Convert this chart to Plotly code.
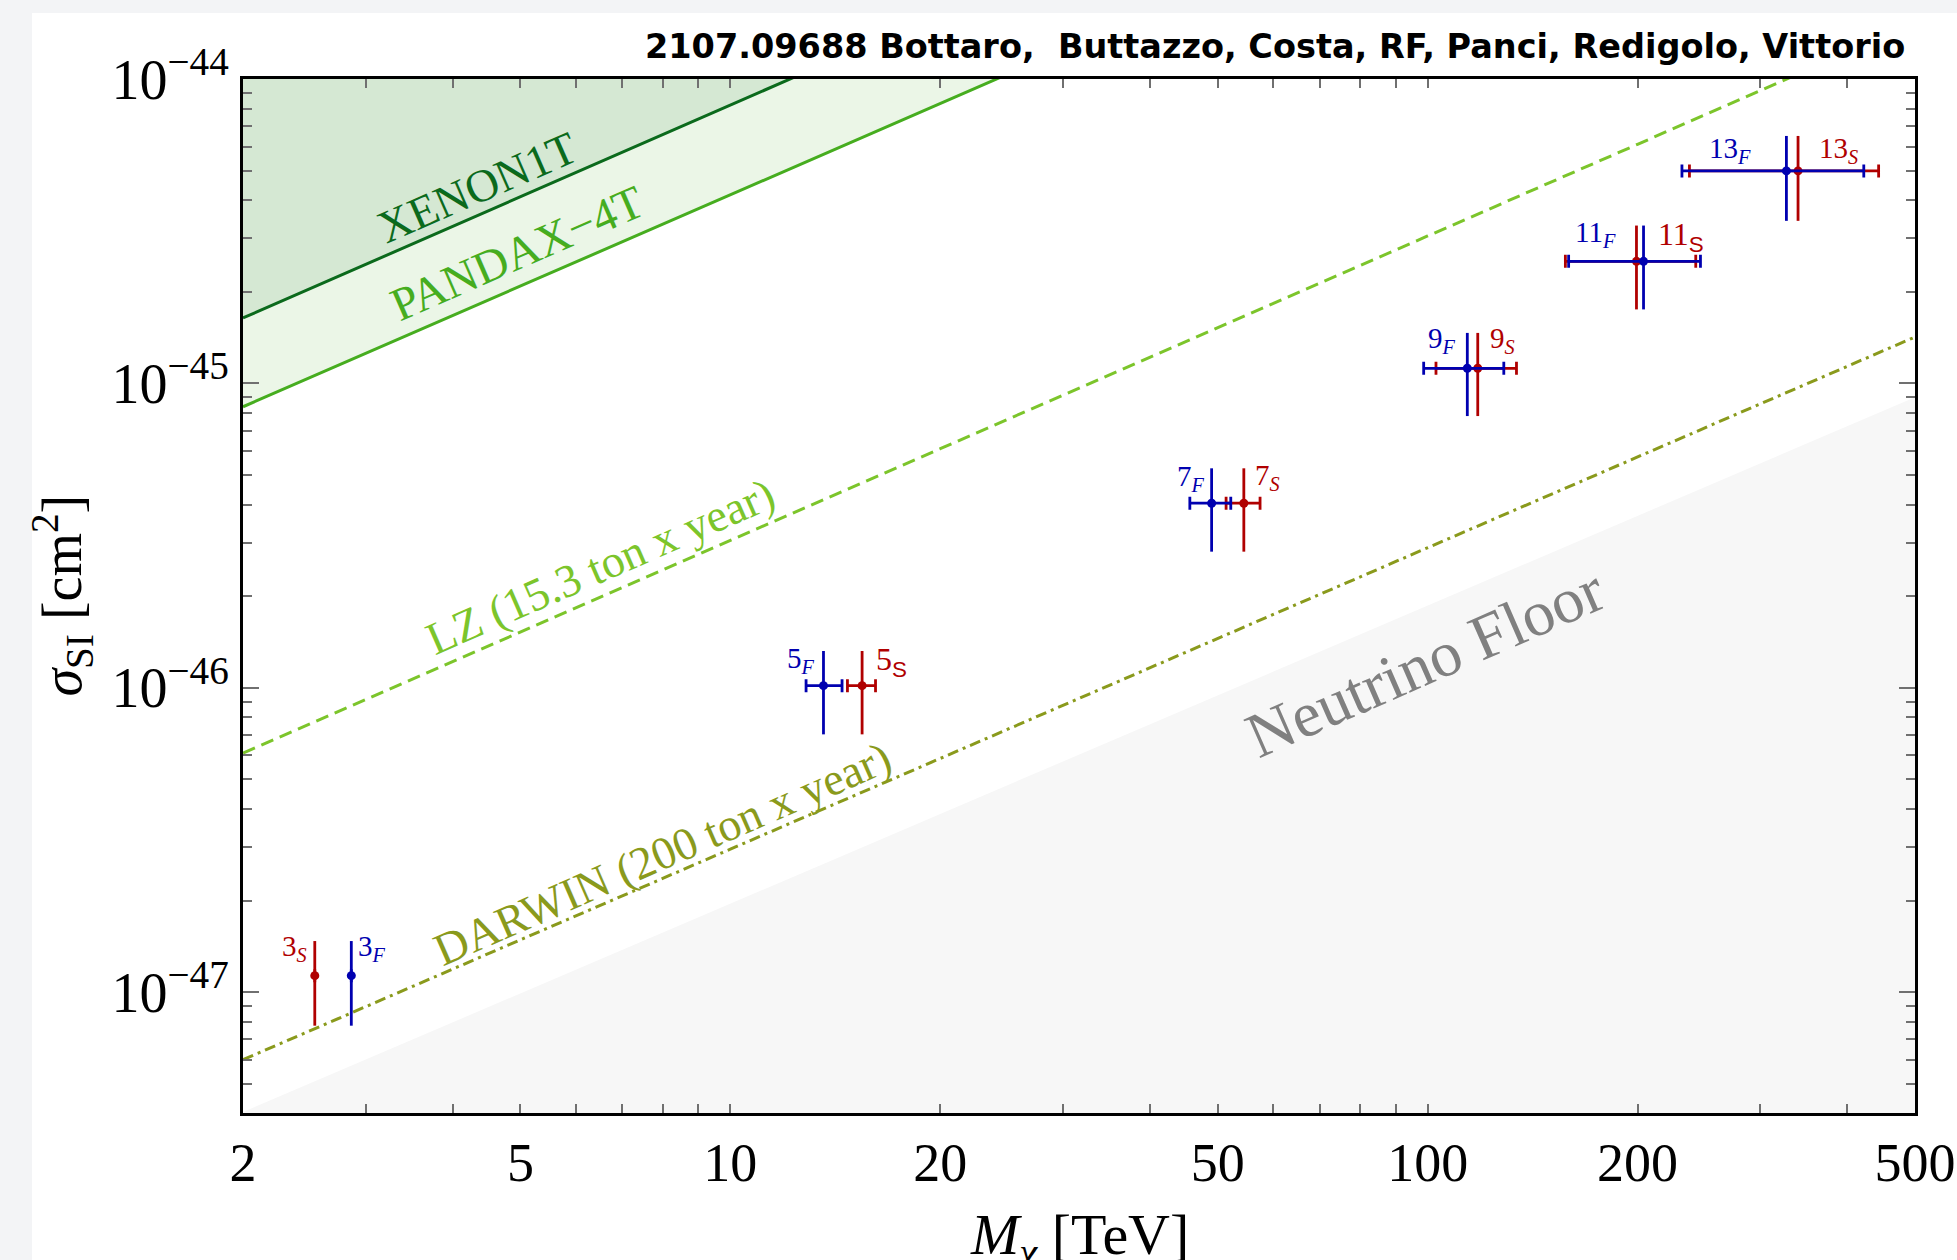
import numpy as np
import plotly.graph_objects as go

# ---------------------------------------------------------------------------
# Data
# ---------------------------------------------------------------------------
# Dark-matter mass grid (TeV) on which the direct-detection curves are given
mass_grid = [2, 5, 10, 20, 50, 100, 200, 500]

# Spin-independent cross sections (cm^2) along the mass grid
xenon1t = [1.64e-45, 4.11e-45, 8.22e-45, 1.64e-44, 4.11e-44, 8.22e-44, 1.64e-43, 4.11e-43]
pandax4t = [8.38e-46, 2.09e-45, 4.17e-45, 8.32e-45, 2.07e-44, 4.13e-44, 8.24e-44, 2.05e-43]
lz_projection = [6.1e-47, 1.53e-46, 3.05e-46, 6.1e-46, 1.53e-45, 3.05e-45, 6.1e-45, 1.53e-44]
darwin_projection = [6.0e-48, 1.49e-47, 2.95e-47, 5.86e-47, 1.45e-46, 2.88e-46, 5.73e-46, 1.42e-45]
neutrino_floor = [4.04e-48, 9.91e-48, 1.96e-47, 3.86e-47, 9.46e-47, 1.86e-46, 3.68e-46, 9.0e-46]

# Electroweak multiplets: n-plet dimension
multiplet = [3, 5, 7, 9, 11, 13]

# Fermionic (F) multiplets: thermal mass with band, and predicted cross section
fermion_mass = [2.86, 13.6, 49.0, 114.0, 204.0, 327.0]
fermion_mass_lo = [2.86, 12.84, 45.6, 98.7, 159.3, 231.6]
fermion_mass_hi = [2.86, 14.46, 52.2, 128.6, 246.2, 422.2]

# Scalar (S) multiplets
scalar_mass = [2.535, 15.45, 54.5, 118.0, 199.3, 339.8]
scalar_mass_lo = [2.535, 14.72, 51.4, 102.8, 157.6, 237.4]
scalar_mass_hi = [2.535, 16.15, 57.5, 134.1, 242.4, 443.4]

# Cross section with its uncertainty (shared by F and S of the same n)
sigma_si = [1.133e-47, 1.016e-46, 4.04e-46, 1.121e-45, 2.518e-45, 4.99e-45]
sigma_si_lo = [7.76e-48, 7.03e-47, 2.80e-46, 7.81e-46, 1.75e-45, 3.42e-45]
sigma_si_hi = [1.472e-47, 1.321e-46, 5.26e-46, 1.465e-45, 3.30e-45, 6.50e-45]

# Axis ticks
x_tick_vals = [2, 5, 10, 20, 50, 100, 200, 500]
x_minor_vals = [3, 4, 6, 7, 8, 9, 30, 40, 60, 70, 80, 90, 300, 400]
y_tick_vals = [1e-47, 1e-46, 1e-45, 1e-44]
y_tick_text = ["10<sup>\u221247</sup>", "10<sup>\u221246</sup>",
               "10<sup>\u221245</sup>", "10<sup>\u221244</sup>"]
y_minor_vals = [m * 10.0 ** e for e in (-48, -47, -46, -45) for m in range(2, 10)]

TITLE = "2107.09688 Bottaro,&nbsp; Buttazzo, Costa, RF, Panci, Redigolo, Vittorio"
X_TITLE = "<i>M</i><sub><i>\u03c7</i></sub> [TeV]"
Y_TITLE = "<i>\u03c3</i><sub>SI</sub> [cm<sup>2</sup>]"

# ---------------------------------------------------------------------------
# Styles
# ---------------------------------------------------------------------------
SERIF = "Liberation Serif, Times New Roman, serif"
HEADER_FONT = "DejaVu Sans, Liberation Sans, sans-serif"
F_COLOR = "#0000b0"
S_COLOR = "#b00000"
XENON_COLOR = "#0b6a1c"
PANDAX_COLOR = "#46ad1f"
LZ_COLOR = "#7cc52b"
DARWIN_COLOR = "#8a9a1c"
FLOOR_FILL = "#f7f7f7"
TICK_GRAY = "#707070"
SKY = 1e-40      # far above the plotted range, used to close upper fills
GROUND = 1e-52   # far below the plotted range, used to close lower fills

fig = go.Figure()


def helper_edge(level):
    fig.add_trace(go.Scatter(x=mass_grid, y=[level] * len(mass_grid), mode="lines",
                             line=dict(width=0), hoverinfo="skip", showlegend=False))


# Neutrino floor (shaded region below the curve)
helper_edge(GROUND)
fig.add_trace(go.Scatter(x=mass_grid, y=neutrino_floor, mode="lines", fill="tonexty",
                         fillcolor=FLOOR_FILL, line=dict(width=0), showlegend=False))

# Excluded regions: PANDAX-4T and XENON1T
helper_edge(SKY)
fig.add_trace(go.Scatter(x=mass_grid, y=pandax4t, mode="lines", fill="tonexty",
                         fillcolor="#ebf6e7", line=dict(color=PANDAX_COLOR, width=3),
                         showlegend=False))
helper_edge(SKY)
fig.add_trace(go.Scatter(x=mass_grid, y=xenon1t, mode="lines", fill="tonexty",
                         fillcolor="#d5e8d3", line=dict(color=XENON_COLOR, width=3),
                         showlegend=False))

# Projected sensitivities
fig.add_trace(go.Scatter(x=mass_grid, y=lz_projection, mode="lines",
                         line=dict(color=LZ_COLOR, width=3, dash="13px,7px"),
                         showlegend=False))
fig.add_trace(go.Scatter(x=mass_grid, y=darwin_projection, mode="lines",
                         line=dict(color=DARWIN_COLOR, width=3, dash="11px,5px,3px,5px"),
                         showlegend=False))


def multiplets(mass, mass_lo, mass_hi, color):
    m = np.array(mass)
    s = np.array(sigma_si)
    fig.add_trace(go.Scatter(
        x=m, y=s, mode="markers",
        marker=dict(color=color, size=9),
        error_x=dict(type="data", symmetric=False,
                     array=np.array(mass_hi) - m, arrayminus=m - np.array(mass_lo),
                     color=color, thickness=2.8, width=6.5),
        error_y=dict(type="data", symmetric=False,
                     array=np.array(sigma_si_hi) - s, arrayminus=s - np.array(sigma_si_lo),
                     color=color, thickness=2.8, width=0),
        showlegend=False))


multiplets(scalar_mass, scalar_mass_lo, scalar_mass_hi, S_COLOR)
multiplets(fermion_mass, fermion_mass_lo, fermion_mass_hi, F_COLOR)

# ---------------------------------------------------------------------------
# Labels
# ---------------------------------------------------------------------------
annotations = []

# multiplet labels, offset (px) from their point
f_offsets = [(21, 28), (-22, 26), (-21, 25), (-25, 28), (-48, 27), (-56, 21)]
s_offsets = [(-20, 28), (29, 24), (24, 26), (25, 28), (45, 25), (40, 21)]
upright_s = {5, 11}

for n, m, (dx, dy) in zip(multiplet, fermion_mass, f_offsets):
    annotations.append(dict(
        x=np.log10(m), y=np.log10(sigma_si[multiplet.index(n)]), xref="x", yref="y",
        text=f"{n}<sub><i>F</i></sub>", showarrow=False, xshift=dx, yshift=dy,
        font=dict(family=SERIF, size=29, color=F_COLOR)))

for n, m, (dx, dy) in zip(multiplet, scalar_mass, s_offsets):
    if n in upright_s:
        txt = f"{n}<sub><span style='font-family:Liberation Sans'>S</span></sub>"
        size = 32
    else:
        txt = f"{n}<sub><i>S</i></sub>"
        size = 29
    annotations.append(dict(
        x=np.log10(m), y=np.log10(sigma_si[multiplet.index(n)]), xref="x", yref="y",
        text=txt, showarrow=False, xshift=dx, yshift=dy,
        font=dict(family=SERIF, size=size, color=S_COLOR)))

# curve labels (positions in log10 axis units)
CURVE_ANGLE = -23.6
curve_labels = [
    ("XENON1T", 0.6366, -44.355, XENON_COLOR, 46),
    ("PANDAX\u22124T", 0.6940, -44.572, PANDAX_COLOR, 47),
    ("LZ (15.3 ton x year)", 0.8130, -45.600, LZ_COLOR, 46),
    ("DARWIN (200 ton x year)", 0.9030, -46.545, DARWIN_COLOR, 46),
    ("Neutrino Floor", 1.9963, -45.918, "#808080", 64),
]
for text, lx, ly, color, size in curve_labels:
    annotations.append(dict(x=lx, y=ly, xref="x", yref="y", text=text, showarrow=False,
                            textangle=CURVE_ANGLE,
                            font=dict(family=SERIF, size=size, color=color)))

# axis titles
annotations.append(dict(x=0.5, y=-0.1215, xref="paper", yref="paper",
                        xanchor="center", yanchor="middle", showarrow=False,
                        text=X_TITLE, font=dict(family=SERIF, size=58, color="black")))
annotations.append(dict(x=-0.1085, y=0.5, xref="paper", yref="paper",
                        xanchor="center", yanchor="middle", showarrow=False, textangle=-90,
                        text=Y_TITLE, font=dict(family=SERIF, size=56, color="black")))

# header line
annotations.append(dict(x=0.9955, y=1.0310, xref="paper", yref="paper",
                        xanchor="right", yanchor="middle", showarrow=False,
                        text=f"<b>{TITLE}</b>",
                        font=dict(family=HEADER_FONT, size=33.5, color="black")))

fig.update_layout(
    width=1957, height=1260,
    margin=dict(l=243, r=42, t=79, b=147),
    paper_bgcolor="#f3f4f6",
    plot_bgcolor="white",
    annotations=annotations,
    shapes=[dict(type="rect", xref="paper", yref="paper",
                 x0=-0.1262, x1=1.05, y0=-0.2, y1=1.0638,
                 fillcolor="white", line=dict(width=0), layer="below")],
)

fig.update_xaxes(
    type="log", range=[np.log10(2), np.log10(500)], automargin=False,
    tickmode="array", tickvals=x_tick_vals, ticktext=[str(v) for v in x_tick_vals],
    ticks="inside", ticklen=9, tickwidth=2, tickcolor=TICK_GRAY,
    showline=True, linewidth=3, linecolor="black", mirror="allticks",
    showgrid=False, zeroline=False,
    tickfont=dict(family=SERIF, size=54, color="black"),
    minor=dict(tickmode="array", tickvals=x_minor_vals, ticks="inside", ticklen=9,
               tickwidth=2, tickcolor=TICK_GRAY, showgrid=False),
)

fig.update_yaxes(
    type="log", range=[-47.397, -44], automargin=False,
    tickmode="array", tickvals=y_tick_vals, ticktext=y_tick_text,
    ticks="inside", ticklen=16, tickwidth=2, tickcolor=TICK_GRAY,
    showline=True, linewidth=3, linecolor="black", mirror="allticks",
    showgrid=False, zeroline=False,
    tickfont=dict(family=SERIF, size=56, color="black"),
    minor=dict(tickmode="array", tickvals=y_minor_vals, ticks="inside", ticklen=9,
               tickwidth=2, tickcolor=TICK_GRAY, showgrid=False),
)

fig.write_html("out.html")
